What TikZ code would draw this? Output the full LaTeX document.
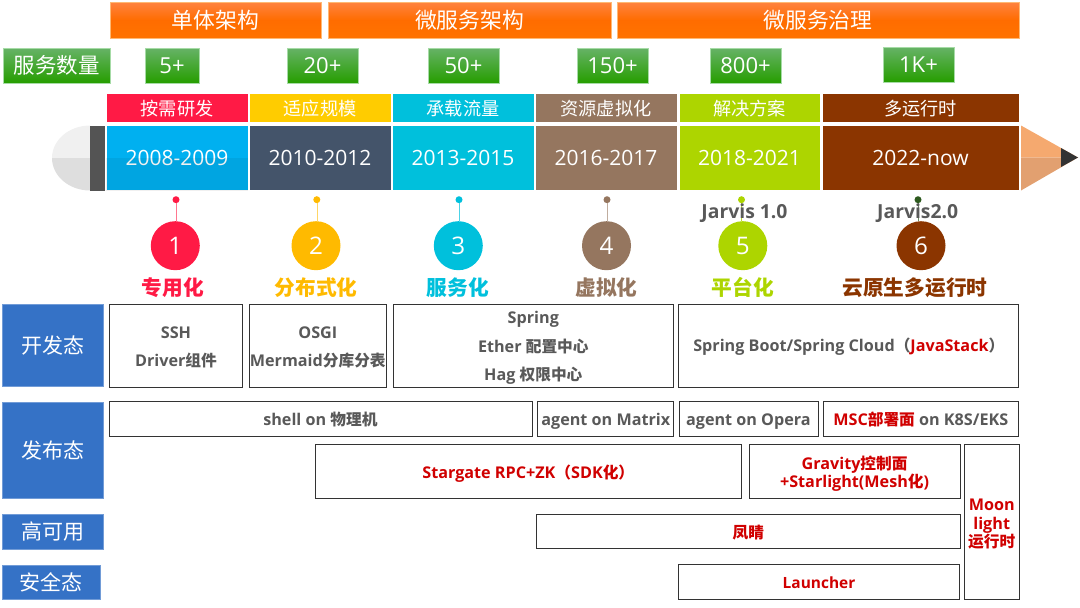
\documentclass[tikz,border=0pt]{standalone}
\usepackage{fontspec}
\setmainfont{Open Sans}[Scale=1.03]
\newfontfamily\cjk{Noto Sans CJK SC}
\usetikzlibrary{positioning}
\definecolor{rowgray}{HTML}{595959}
\definecolor{rowred}{HTML}{D00000}
\definecolor{bandblue}{HTML}{3572C6}
\definecolor{rubyred}{HTML}{FF1A45}
\definecolor{amber}{HTML}{FFCC00}
\definecolor{amberdark}{HTML}{FFBA00}
\definecolor{teal}{HTML}{00C0DC}
\definecolor{mocha}{HTML}{95765F}
\definecolor{lime}{HTML}{ADD500}
\definecolor{rust}{HTML}{8B3500}
\definecolor{skyblue}{HTML}{00B0F0}
\definecolor{slate}{HTML}{44546A}
\definecolor{pine}{HTML}{2D5A1E}
\definecolor{tiplight}{HTML}{F5A96F}
\definecolor{tipdark}{HTML}{E2A070}
\newcommand{\fs}[1]{\fontsize{#1}{#1}\selectfont}
\tikzset{
    box/.style={inner sep=0pt, outer sep=0pt, align=center},
    drop/.style={text height=#1, text depth=0pt},
    stage/.style={box, drop=16.5pt, text=white, draw=orange!55, top color=orange!70!red!75, bottom color=orange!90!red, middle color=orange!85!red, minimum height=35.5pt, font=\cjk\fs{21.8}},
    count/.style={box, text=white, draw=green!60!black!35, top color=green!50!black!60, bottom color=green!55!black!85!yellow, minimum height=34.5pt, font=\fs{21.4}},
    header/.style={box, drop=15pt, text=white, draw=white, minimum height=29pt, font=\cjk\fs{18.2}},
    years/.style={box, text=white, draw=white, minimum height=65pt, font=\fs{20.4}},
    pin/.style={circle, inner sep=0pt, minimum size=7pt},
    num/.style={circle, inner sep=0pt, minimum size=49pt, text=white, font=\fs{23.5}},
    trend/.style={box, font=\cjk\bfseries\fs{20.7}},
    side/.style={box, drop=16pt, text=white, fill=bandblue, draw=bandblue!70, font=\cjk\fs{21}},
    cell/.style={box, drop=12.5pt, draw=black!80, line width=0.8pt, fill=white, text=rowgray, font=\bfseries\fs{15.7}},
    hot/.style={cell, drop=14pt, text=rowred},
}
\begin{document}
\begin{tikzpicture}[x=1pt, y=-1pt]
    \useasboundingbox (0,0) rectangle (1080,608);

    % stages
    \node[stage, minimum width=211pt] (mono) at (215.5,20) {单体架构};
    \node[stage, minimum width=283pt] (micro) at (469.5,20) {微服务架构};
    \node[stage, minimum width=402pt] (govern) at (818,20) {微服务治理};

    % service counts
    \node[count, minimum width=107pt, font=\cjk\fs{21.5}] (label) at (56.5,65.5) {服务数量};
    \node[count, minimum width=54pt] (c1) at (172,65.5) {5+};
    \node[count, minimum width=71pt] (c2) at (322.5,65.5) {20+};
    \node[count, minimum width=71pt] (c3) at (463.5,65.5) {50+};
    \node[count, minimum width=71pt] (c4) at (612.5,65.5) {150+};
    \node[count, minimum width=71pt] (c5) at (745.5,65.5) {800+};
    \node[count, minimum width=71pt] (c6) at (918.5,64.5) {1K+};

    % pencil end and tip
    \fill[black!6] (90,125.5) arc[start angle=90, end angle=180, x radius=38pt, y radius=32.5pt] -- (90,158) -- cycle;
    \fill[black!13] (52,158) arc[start angle=180, end angle=270, x radius=38pt, y radius=32.5pt] -- (90,158) -- cycle;
    \fill[black!67] (89.5,125.5) rectangle (104.5,190.5);
    \fill[tiplight] (1021,125.5) -- (1078,157.5) -- (1021,157.5) -- cycle;
    \fill[tipdark] (1021,190.5) -- (1078,157.5) -- (1021,157.5) -- cycle;
    \fill[black!80] (1061,148) -- (1078,157.5) -- (1061,167) -- cycle;

    % headers
    \node[header, fill=rubyred, minimum width=142pt] (h1) at (177,108) {按需研发};
    \node[header, fill=amber, minimum width=142pt] (h2) at (320,108) {适应规模};
    \node[header, fill=teal, minimum width=142pt] (h3) at (463,108) {承载流量};
    \node[header, fill=mocha, minimum width=142pt] (h4) at (606,108) {资源虚拟化};
    \node[header, fill=lime, minimum width=141pt] (h5) at (749.5,108) {解决方案};
    \node[header, fill=rust, minimum width=197pt] (h6) at (920.5,108) {多运行时};

    % years
    \node[years, fill=skyblue, minimum width=142pt] (y1) at (177,158) {2008-2009};
    \node[years, fill=slate, minimum width=142pt] (y2) at (320,158) {2010-2012};
    \node[years, fill=teal, minimum width=142pt] (y3) at (463,158) {2013-2015};
    \node[years, fill=mocha, minimum width=142pt] (y4) at (606,158) {2016-2017};
    \node[years, fill=lime, minimum width=141pt] (y5) at (749.5,158) {2018-2021};
    \node[years, fill=rust, minimum width=197pt] (y6) at (920.5,158) {2022-now};
    \fill[black, opacity=.06] (y1.west) rectangle (y1.south east);

    % pins and numbers
    \node[pin, fill=rubyred] (p1) at (176,199.7) {};
    \node[pin, fill=amberdark] (p2) at (316.8,199.7) {};
    \node[pin, fill=teal] (p3) at (459,199.7) {};
    \node[pin, fill=mocha] (p4) at (607,199.7) {};
    \node[pin, fill=lime] (p5) at (741.5,199.7) {};
    \node[pin, fill=pine] (p6) at (918,199.7) {};
    \node[num, fill=rubyred] (n1) at (175.3,245.7) {1};
    \node[num, fill=amberdark] (n2) at (316,245.7) {2};
    \node[num, fill=teal] (n3) at (458.3,245.7) {3};
    \node[num, fill=mocha] (n4) at (606.5,245.7) {4};
    \node[num, fill=lime] (n5) at (742.8,245.7) {5};
    \node[num, fill=rust] (n6) at (921,245.7) {6};
    \draw[rubyred!60] (p1) -- (p1 |- n1.north);
    \draw[amberdark!60] (p2) -- (p2 |- n2.north);
    \draw[teal!70] (p3) -- (p3 |- n3.north);
    \draw[mocha!60] (p4) -- (p4 |- n4.north);
    \draw[lime!80] (p5) -- (p5 |- n5.north);
    \draw[pine!70] (p6) -- (p6 |- n6.north);
    \node[box, text=rowgray, font=\bfseries\fs{18.8}] (j1) at (744.5,213.3) {Jarvis 1.0};
    \node[box, text=rowgray, font=\bfseries\fs{18.8}] (j2) at (917.7,213.3) {Jarvis2.0};

    % trends
    \node[trend, text=rubyred] (t1) at (173,287.3) {专用化};
    \node[trend, text=amberdark] (t2) at (316,287.3) {分布式化};
    \node[trend, text=teal] (t3) at (458,287.3) {服务化};
    \node[trend, text=mocha] (t4) at (606.5,287.3) {虚拟化};
    \node[trend, text=lime] (t5) at (743,287.3) {平台化};
    \node[trend, text=rust] (t6) at (915,287.3) {云原生多运行时};

    % side labels
    \node[side, minimum width=101pt, minimum height=82pt] (dev) at (52.5,345) {开发态};
    \node[side, minimum width=101pt, minimum height=96pt] (pub) at (52.5,450) {发布态};
    \node[side, minimum width=101pt, minimum height=34.5pt] (ha) at (52.5,531.5) {高可用};
    \node[side, minimum width=98.5pt, minimum height=34.5pt] (sec) at (51.2,582) {安全态};

    % dev row
    \node[cell, drop=42pt, minimum width=133pt, minimum height=83pt] (ssh) at (176,345.5) {SSH\\[12.5pt]Driver{\cjk 组件}};
    \node[cell, drop=42pt, minimum width=137pt, minimum height=83pt] (osgi) at (317.8,345.5) {OSGI\\[12.5pt]Mermaid{\cjk 分库分表}};
    \node[cell, drop=70pt, minimum width=280.5pt, minimum height=83pt] (spring) at (533.3,345.5) {Spring\\[10.5pt]Ether {\cjk 配置中心}\\[12.5pt]Hag {\cjk 权限中心}};
    \node[cell, minimum width=340pt, minimum height=83pt] (boot) at (848.8,345.5) {Spring Boot/Spring Cloud{\cjk （}{\color{rowred}JavaStack}{\cjk ）}};

    % publish row
    \node[cell, minimum width=423pt, minimum height=34.5pt] (shell) at (320.4,419) {shell on {\cjk 物理机}};
    \node[cell, minimum width=136pt, minimum height=34.5pt] (matrix) at (605.8,419) {agent on Matrix};
    \node[cell, minimum width=139pt, minimum height=34.5pt] (opera) at (748.4,419) {agent on Opera};
    \node[cell, minimum width=194.5pt, minimum height=34.5pt] (msc) at (920.8,419) {{\color{rowred}MSC{\cjk 部署面}} on K8S/EKS};
    \node[hot, minimum width=426pt, minimum height=54pt] (rpc) at (528.3,471.3) {Stargate RPC+ZK{\cjk （}SDK{\cjk 化）}};
    \node[hot, drop=33pt, minimum width=211pt, minimum height=54pt] (gravity) at (854.6,471.3) {Gravity{\cjk 控制面}\\[0.3pt]+Starlight(Mesh{\cjk 化})};
    \node[hot, drop=52pt, minimum width=54.5pt, minimum height=155pt] (moon) at (991.7,521.8) {Moon\\[3.3pt]light\\[0.3pt]{\cjk 运行时}};

    % ha and security rows
    \node[hot, drop=15pt, minimum width=424pt, minimum height=34.5pt] (phoenix) at (748.3,531.3) {{\cjk 凤睛}};
    \node[hot, drop=13pt, font=\bfseries\fs{15}, minimum width=280.5pt, minimum height=34.5pt] (launcher) at (819,581.8) {Launcher};
\end{tikzpicture}
\end{document}
